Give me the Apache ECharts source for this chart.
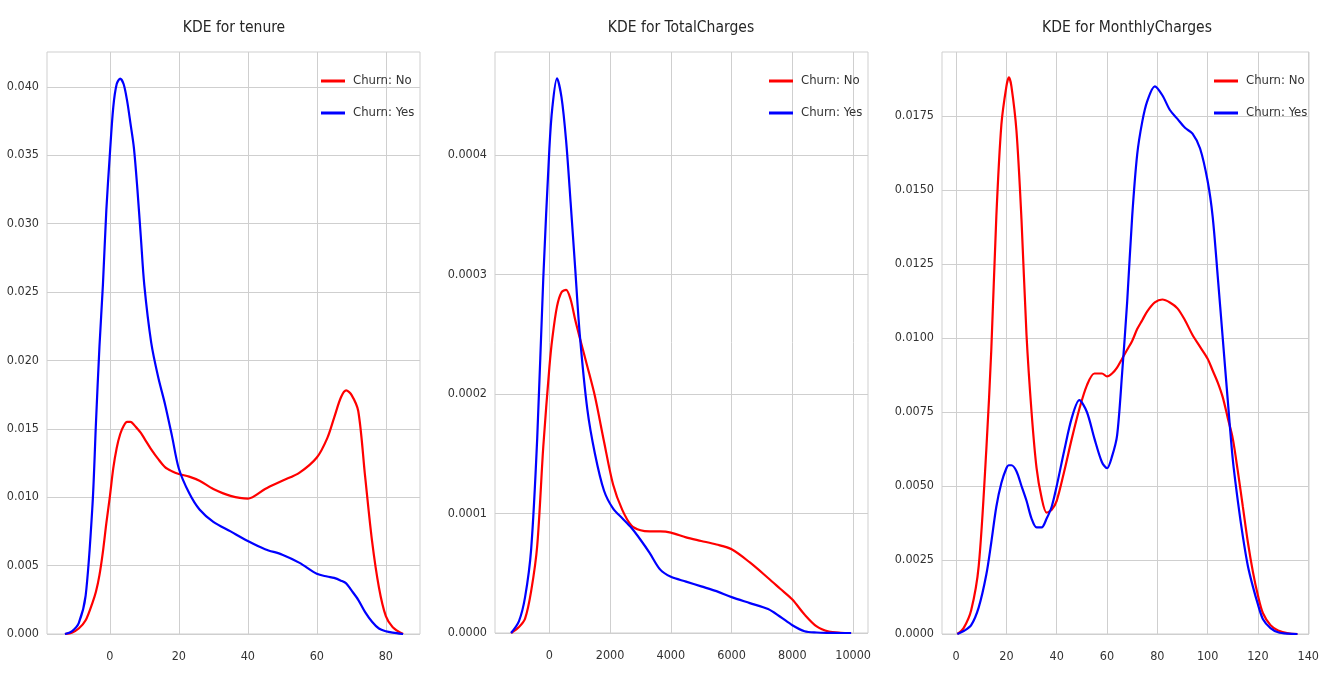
<!DOCTYPE html>
<html>
<head>
<meta charset="utf-8">
<script src="https://cdn.jsdelivr.net/npm/echarts@6/dist/echarts.min.js"></script>
<style>
  html, body { margin: 0; padding: 0; background: #fff; }
  #main { width: 1330px; height: 682px; }
</style>
</head>
<body>
<div id="main"></div>
<script>
// tenure
const tenureX = [-13, -11, -9, -7, -5, -4, -3, -2, -1, 0, 1, 2, 3, 4, 5, 6, 7, 8, 9, 10,
    12, 14, 16, 18, 20, 23, 26, 30, 35, 40, 45, 50, 55, 60, 63, 65, 67, 68.5, 70, 72,
    74, 76, 78, 80, 82, 85];
const tenureNo = [0, 0.0001, 0.0004, 0.001, 0.0023, 0.0031, 0.0043, 0.006, 0.0081, 0.0100,
    0.0121, 0.0136, 0.0146, 0.0152, 0.0155, 0.0155, 0.0153, 0.015, 0.0147, 0.0143,
    0.0135, 0.0128, 0.0122, 0.0119, 0.0117, 0.0115, 0.0112, 0.0106, 0.0101, 0.0099,
    0.0106, 0.0112, 0.0118, 0.0129, 0.0143, 0.0158, 0.0173, 0.0178, 0.0175, 0.0163,
    0.0115, 0.0068, 0.0034, 0.0013, 0.0005, 0];
const tenureYes = [0, 0.0002, 0.0008, 0.0028, 0.0095, 0.0155, 0.021, 0.0255, 0.031, 0.035,
    0.0385, 0.0402, 0.0406, 0.0402, 0.039, 0.0373, 0.0355, 0.0325, 0.029, 0.0255,
    0.0213, 0.0188, 0.0168, 0.0145, 0.0121, 0.0103, 0.0091, 0.0082, 0.0075, 0.0068,
    0.0062, 0.0058, 0.0052, 0.0044, 0.0042, 0.0041, 0.0039, 0.0037, 0.0032, 0.0025,
    0.0016, 0.0009, 0.0004, 0.0002, 0.0001, 0];

// TotalCharges
const totalX = [-1260, -1000, -800, -600, -400, -200, 0, 100, 250, 400, 550, 700, 850, 1000,
    1250, 1500, 1800, 2100, 2400, 2700, 3000, 3300, 3650, 4000, 4500, 5000, 5500, 6000,
    6600, 7200, 7600, 8000, 8400, 8800, 9200, 9600, 9934];
const totalNo = [0, 0.000005, 0.000012, 0.000035, 0.000073, 0.000156, 0.000222, 0.000247,
    0.000273, 0.000285, 0.000287, 0.000279, 0.000262, 0.000247, 0.000223, 0.000198,
    0.00016, 0.000124, 0.000103, 0.00009, 0.000086, 0.000085, 0.000085, 0.000084,
    0.00008, 0.000077, 0.000074, 0.00007, 0.000059, 0.000046, 0.000037, 0.000028,
    0.0000155, 0.0000055, 0.0000012, 0.0000002, 0];
const totalYes = [0, 0.00001, 0.00003, 0.00007, 0.000163, 0.000297, 0.000405, 0.00044,
    0.000464, 0.000448, 0.000412, 0.00036, 0.000305, 0.00025, 0.000187, 0.00015,
    0.000119, 0.000104, 0.000096, 0.000088, 0.000078, 0.000067, 0.000053, 0.000047,
    0.000043, 0.000039, 0.000035, 0.00003, 0.000025, 0.00002, 0.0000136, 0.0000065,
    0.0000015, 0.0000004, 0.0000001, 0, 0];

// MonthlyCharges
const monthlyX = [0.5, 3, 6, 9, 12, 14, 16, 18, 20, 21, 22, 24, 26, 28, 30, 32, 34, 36, 38, 40,
    43, 46, 49, 52, 55, 58, 60, 62, 64, 66, 68, 70, 72, 74, 76, 79, 82, 85, 88, 91,
    94, 97, 100, 102, 104, 106, 108, 110, 112, 114, 116, 118, 120, 122, 125, 128, 132, 135.7];
const monthlyNo = [0, 0.0002, 0.0008, 0.0023, 0.0062, 0.0096, 0.0141, 0.0172, 0.0185, 0.0188,
    0.0185, 0.0170, 0.0140, 0.0101, 0.0075, 0.0056, 0.0046, 0.0041, 0.0042, 0.0045,
    0.0055, 0.0066, 0.0076, 0.0084, 0.0088, 0.0088, 0.0087, 0.0088, 0.0090, 0.0093,
    0.0096, 0.0099, 0.0103, 0.0106, 0.0109, 0.0112, 0.0113, 0.0112, 0.0110, 0.0106,
    0.0101, 0.0097, 0.0093, 0.0089, 0.0085, 0.0080, 0.0073, 0.0066, 0.0055, 0.0043,
    0.0031, 0.0021, 0.0013, 0.0007, 0.0003, 0.00012, 0.00002, 0];
const monthlyYes = [0, 0.0001, 0.0003, 0.0009, 0.0020, 0.0031, 0.0043, 0.0051, 0.0056, 0.0057,
    0.0057, 0.0055, 0.0050, 0.0045, 0.0039, 0.0036, 0.0036, 0.0039, 0.0043, 0.0050,
    0.0062, 0.0073, 0.0079, 0.0075, 0.0066, 0.0058, 0.0056, 0.0060, 0.0067, 0.0088,
    0.0112, 0.0141, 0.0162, 0.0173, 0.0180, 0.0185, 0.0182, 0.0177, 0.0174, 0.0171,
    0.0169, 0.0164, 0.0153, 0.0141, 0.0121, 0.0100, 0.0079, 0.0059, 0.0045, 0.0033,
    0.0023, 0.0016, 0.0010, 0.0005, 0.0002, 0.00006, 0.00001, 0];

// tick labels
const tenureXTicks = [0, 20, 40, 60, 80];
const tenureYTicks = [0, 0.005, 0.010, 0.015, 0.020, 0.025, 0.030, 0.035, 0.040];
const totalXTicks = [0, 2000, 4000, 6000, 8000, 10000];
const totalYTicks = [0, 0.0001, 0.0002, 0.0003, 0.0004];
const monthlyXTicks = [0, 20, 40, 60, 80, 100, 120, 140];
const monthlyYTicks = [0, 0.0025, 0.0050, 0.0075, 0.0100, 0.0125, 0.0150, 0.0175];

const titles = ['KDE for tenure', 'KDE for TotalCharges', 'KDE for MonthlyCharges'];
const legendNames = ['Churn: No', 'Churn: Yes'];

const font = "'Liberation Sans Narrow', 'DejaVu Sans Condensed', 'Liberation Sans', sans-serif";
const gridColor = '#cfcfcf';

function pairs(xs, ys) {
    return xs.map(function (x, i) { return [x, ys[i]]; });
}

function xAxisOf(idx, min, max, ticks) {
    return {
        type: 'value', gridIndex: idx, min: min, max: max,
        axisLine: { show: false },
        axisTick: { show: false, customValues: ticks },
        axisLabel: {
            customValues: ticks, margin: 16, color: '#333',
            fontFamily: font, fontSize: 12.5,
            formatter: function (v) { return String(Math.round(v)); }
        },
        splitLine: { show: true, lineStyle: { color: gridColor, width: 1 } }
    };
}

function yAxisOf(idx, max, ticks, digits) {
    return {
        type: 'value', gridIndex: idx, min: 0, max: max,
        axisLine: { show: false },
        axisTick: { show: false, customValues: ticks },
        axisLabel: {
            customValues: ticks, margin: 8, color: '#333',
            fontFamily: font, fontSize: 12.5,
            formatter: function (v) { return v.toFixed(digits); }
        },
        splitLine: { show: true, lineStyle: { color: gridColor, width: 1 } }
    };
}

function lineOf(name, idx, xs, ys, color) {
    return {
        name: name, type: 'line', xAxisIndex: idx, yAxisIndex: idx,
        data: pairs(xs, ys), smooth: 0.3, symbol: 'none', showSymbol: false,
        lineStyle: { color: color, width: 2.2 }, itemStyle: { color: color },
        emphasis: { disabled: true }
    };
}

const gridBase = { show: true, borderColor: gridColor, borderWidth: 1, containLabel: false };
const titleCenters = [234, 681, 1127];
const legendLefts = [321, 769, 1214];

let myChart = echarts.init(document.getElementById('main'));
let options = {
    backgroundColor: '#fff',
    animation: false,
    title: titles.map(function (t, i) {
        return {
            text: t, left: titleCenters[i], top: 20, textAlign: 'center', padding: 0,
            textStyle: { fontFamily: font, fontSize: 15.5, fontWeight: 'normal', color: '#262626' }
        };
    }),
    legend: legendLefts.map(function (l) {
        return {
            data: legendNames, orient: 'vertical', left: l, top: 74, padding: 0,
            icon: 'rect', itemWidth: 24, itemHeight: 3, itemGap: 18,
            selectedMode: false,
            textStyle: { fontFamily: font, fontSize: 13, color: '#333', lineHeight: 14, padding: [0, 0, 0, 3] }
        };
    }),
    grid: [
        Object.assign({ left: 47, top: 52, width: 373, height: 582 }, gridBase),
        Object.assign({ left: 495, top: 52, width: 373, height: 581 }, gridBase),
        Object.assign({ left: 942, top: 52, width: 367, height: 582 }, gridBase)
    ],
    xAxis: [
        xAxisOf(0, -18.2, 89.9, tenureXTicks),
        xAxisOf(1, -1790, 10490, totalXTicks),
        xAxisOf(2, -5.6, 140.3, monthlyXTicks)
    ],
    yAxis: [
        yAxisOf(0, 0.04254, tenureYTicks, 3),
        yAxisOf(1, 0.000486, totalYTicks, 4),
        yAxisOf(2, 0.01966, monthlyYTicks, 4)
    ],
    series: [
        lineOf('Churn: No', 0, tenureX, tenureNo, '#ff0000'),
        lineOf('Churn: Yes', 0, tenureX, tenureYes, '#0000ff'),
        lineOf('Churn: No', 1, totalX, totalNo, '#ff0000'),
        lineOf('Churn: Yes', 1, totalX, totalYes, '#0000ff'),
        lineOf('Churn: No', 2, monthlyX, monthlyNo, '#ff0000'),
        lineOf('Churn: Yes', 2, monthlyX, monthlyYes, '#0000ff')
    ]
};
myChart.setOption(options);
</script>
</body>
</html>
